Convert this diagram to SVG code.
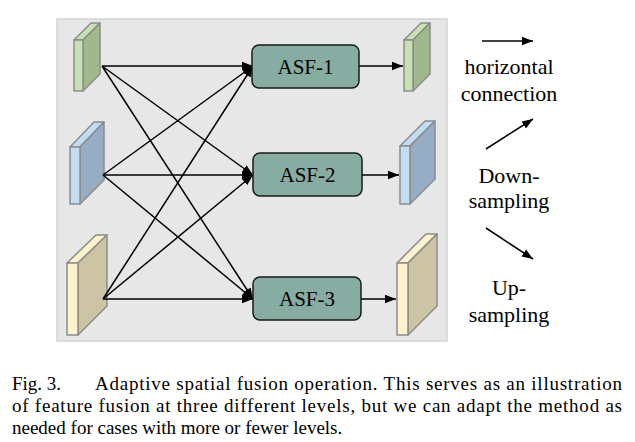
<svg xmlns="http://www.w3.org/2000/svg" width="635" height="442" viewBox="0 0 635 442">
<defs>
<marker id="ah" markerUnits="userSpaceOnUse" markerWidth="12" markerHeight="10" refX="11" refY="5" orient="auto">
<path d="M0,0.8 L11,5 L0,9.2 Z" fill="#000"/>
</marker>
</defs>
<style>
.blk{stroke:#8c8c8c;stroke-width:1.5;stroke-linejoin:round}
.gF{fill:#c7e1b3}.gS{fill:#a0b98c}
.bF{fill:#c2dcf1}.bS{fill:#97adc6}
.yF{fill:#fff2cc}.yS{fill:#cdc3a5}
.asf{fill:#87aca2;stroke:#1a1a1a;stroke-width:1.5}
.lbl{font-family:"Liberation Serif","Times New Roman",serif;font-size:21px;fill:#000;text-anchor:middle}
.leg{font-family:"Liberation Serif","Times New Roman",serif;font-size:22px;fill:#000;text-anchor:middle}
.cap{font-family:"Liberation Serif","Times New Roman",serif;font-size:19px;fill:#000}
.con{stroke:#000;stroke-width:1.5;fill:none;marker-end:url(#ah)}
</style>
<rect x="57" y="19" width="390" height="322" fill="#e7e7e7" stroke="#d2d2d2" stroke-width="1.5"/>

<g id="in1">
<polygon class="blk gF" points="74,40 91,23 100,23 83,40"/>
<polygon class="blk gS" points="83,40 100,23 100,74 83,91"/>
<rect class="blk gF" x="74" y="40" width="9" height="51"/>
</g>
<g id="in2">
<polygon class="blk bF" points="70,147 94,122 104,122 80,147"/>
<polygon class="blk bS" points="80,147 104,122 104,180 80,204"/>
<rect class="blk bF" x="70" y="147" width="10" height="57"/>
</g>
<g id="in3">
<polygon class="blk yF" points="67,263 96,235 107,235 78,263"/>
<polygon class="blk yS" points="78,263 107,235 107,306 78,335"/>
<rect class="blk yF" x="67" y="263" width="11" height="72"/>
</g>

<g id="out1">
<polygon class="blk gF" points="404,40 421,23 430,23 413,40"/>
<polygon class="blk gS" points="413,40 430,23 430,74 413,91"/>
<rect class="blk gF" x="404" y="40" width="9" height="51"/>
</g>
<g id="out2">
<polygon class="blk bF" points="400,146 425,121 435,121 410,146"/>
<polygon class="blk bS" points="410,146 435,121 435,179 410,204"/>
<rect class="blk bF" x="400" y="146" width="10" height="58"/>
</g>
<g id="out3">
<polygon class="blk yF" points="397,263 426,234 437,234 408,263"/>
<polygon class="blk yS" points="408,263 437,234 437,306 408,335"/>
<rect class="blk yF" x="397" y="263" width="11" height="72"/>
</g>

<g id="connectors">
<line class="con" x1="102" y1="66" x2="253" y2="66"/>
<line class="con" x1="102" y1="66" x2="253" y2="175"/>
<line class="con" x1="102" y1="66" x2="253" y2="299"/>
<line class="con" x1="103" y1="175" x2="253" y2="66"/>
<line class="con" x1="103" y1="175" x2="253" y2="175"/>
<line class="con" x1="103" y1="175" x2="253" y2="299"/>
<line class="con" x1="103" y1="299" x2="253" y2="66"/>
<line class="con" x1="103" y1="299" x2="253" y2="175"/>
<line class="con" x1="103" y1="299" x2="253" y2="299"/>
<line class="con" x1="359" y1="66" x2="403" y2="66"/>
<line class="con" x1="362" y1="175" x2="399" y2="175"/>
<line class="con" x1="361" y1="299" x2="396" y2="299"/>
<line class="con" x1="482" y1="41" x2="533" y2="41"/>
<line class="con" x1="486" y1="149" x2="533" y2="119"/>
<line class="con" x1="486" y1="228" x2="533" y2="259"/>
</g>

<g id="asf1">
<rect class="asf" x="252" y="45" width="107" height="43" rx="7"/>
<text class="lbl" x="305.5" y="74">ASF-1</text>
</g>
<g id="asf2">
<rect class="asf" x="253" y="153" width="109" height="43" rx="7"/>
<text class="lbl" x="307.5" y="182">ASF-2</text>
</g>
<g id="asf3">
<rect class="asf" x="253" y="277" width="108" height="43" rx="7"/>
<text class="lbl" x="307" y="306">ASF-3</text>
</g>

<g id="legend">
<text class="leg" x="509" y="74">horizontal</text>
<text class="leg" x="509" y="101">connection</text>
<text class="leg" x="509" y="183">Down-</text>
<text class="leg" x="509" y="208">sampling</text>
<text class="leg" x="509" y="295">Up-</text>
<text class="leg" x="509" y="322">sampling</text>
</g>

<g id="caption">
<text class="cap" x="12" y="390">Fig. 3.</text>
<text class="cap" x="95" y="390" textLength="527" lengthAdjust="spacing">Adaptive spatial fusion operation. This serves as an illustration</text>
<text class="cap" x="12" y="412" textLength="610" lengthAdjust="spacing">of feature fusion at three different levels, but we can adapt the method as</text>
<text class="cap" x="12" y="434">needed for cases with more or fewer levels.</text>
</g>
</svg>
